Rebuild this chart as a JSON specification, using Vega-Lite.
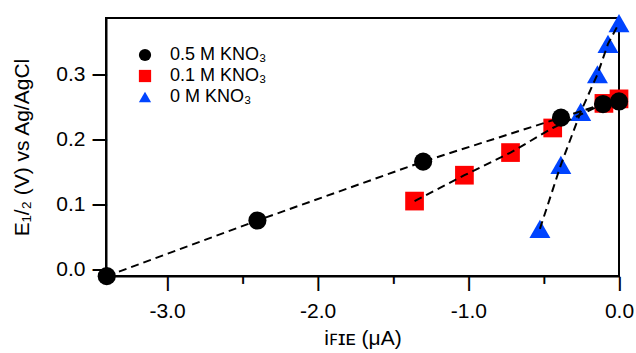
{
  "$schema": "https://vega.github.io/schema/vega-lite/v6.json",
  "width": 513,
  "height": 258,
  "autosize": {"type": "none"},
  "padding": {"left": 106, "top": 18, "right": 17, "bottom": 77},
  "config": {
    "font": "Liberation Sans",
    "view": {"stroke": "black", "strokeWidth": 2},
    "axis": {"grid": false, "domainColor": "black", "domainWidth": 2, "tickColor": "black", "tickWidth": 2, "labelColor": "black", "titleColor": "black", "labelFont": "Liberation Sans", "titleFont": "Liberation Sans", "labelFontSize": 21, "titleFontSize": 21, "titleFontWeight": "normal"},
    "legend": {"title": null, "orient": "none", "legendX": 30, "legendY": 28, "labelFontSize": 18, "labelFont": "Liberation Sans", "labelColor": "black", "symbolSize": 150, "labelOffset": 16, "rowPadding": 3, "padding": 0, "symbolStrokeWidth": 0}
  },
  "data": {
    "values": [
      {"series": "0.1 M KNO₃", "i": -1.357, "E": 0.105},
      {"series": "0.1 M KNO₃", "i": -1.026, "E": 0.145},
      {"series": "0.1 M KNO₃", "i": -0.72, "E": 0.18},
      {"series": "0.1 M KNO₃", "i": -0.44, "E": 0.218},
      {"series": "0.1 M KNO₃", "i": -0.1, "E": 0.256},
      {"series": "0.1 M KNO₃", "i": 0.0, "E": 0.263},
      {"series": "0.5 M KNO₃", "i": -3.4, "E": -0.011},
      {"series": "0.5 M KNO₃", "i": -2.4, "E": 0.075},
      {"series": "0.5 M KNO₃", "i": -1.3, "E": 0.166},
      {"series": "0.5 M KNO₃", "i": -0.385, "E": 0.234},
      {"series": "0.5 M KNO₃", "i": -0.106, "E": 0.255},
      {"series": "0.5 M KNO₃", "i": 0.0, "E": 0.259},
      {"series": "0 M KNO₃", "i": -0.525, "E": 0.062},
      {"series": "0 M KNO₃", "i": -0.386, "E": 0.161},
      {"series": "0 M KNO₃", "i": -0.254, "E": 0.243},
      {"series": "0 M KNO₃", "i": -0.143, "E": 0.301},
      {"series": "0 M KNO₃", "i": -0.073, "E": 0.348},
      {"series": "0 M KNO₃", "i": 0.0, "E": 0.38}
    ]
  },
  "resolve": {"axis": {"x": "independent", "y": "independent"}},
  "encoding": {
    "x": {"field": "i", "type": "quantitative", "scale": {"domain": [-3.405, 0], "nice": false, "zero": false}},
    "y": {"field": "E", "type": "quantitative", "scale": {"domain": [-0.0108, 0.388], "nice": false, "zero": false}},
    "color": {"field": "series", "type": "nominal",
      "scale": {"domain": ["0.5 M KNO₃", "0.1 M KNO₃", "0 M KNO₃"], "range": ["#000000", "#ff0000", "#0044ff"]}},
    "shape": {"field": "series", "type": "nominal",
      "scale": {"domain": ["0.5 M KNO₃", "0.1 M KNO₃", "0 M KNO₃"], "range": ["circle", "square", "triangle-up"]}}
  },
  "layer": [
    {
      "transform": [{"filter": "datum.series == '0.1 M KNO₃'"}],
      "mark": {"type": "point", "filled": true, "opacity": 1, "size": 350, "clip": false},
      "encoding": {
        "x": {"field": "i", "type": "quantitative",
          "axis": {"values": [-3, -2, -1, 0], "labelExpr": "replace(format(datum.value, '.1f'), '\u2212', '-')", "orient": "bottom", "ticks": false, "labelFlush": false, "labelOverlap": false, "labelPadding": 24, "title": "iꜰɪᴇ (μA)", "titlePadding": 6}},
        "y": {"field": "E", "type": "quantitative",
          "axis": {"values": [0, 0.1, 0.2, 0.3], "labelExpr": "replace(format(datum.value, '.1f'), '\u2212', '-')", "orient": "left", "ticks": false, "labelFlush": false, "labelOverlap": false, "labelPadding": 21, "title": "E₁/₂ (V) vs Ag/AgCl", "titlePadding": 23}}
      }
    },
    {
      "transform": [{"filter": "datum.series == '0.5 M KNO₃'"}],
      "mark": {"type": "point", "filled": true, "opacity": 1, "size": 330, "clip": false},
      "encoding": {
        "x": {"field": "i", "type": "quantitative",
          "axis": {"values": [-3, -2, -1, 0], "orient": "bottom", "domain": false, "ticks": false, "labelExpr": "'┃'", "labelFont": "DejaVu Sans Mono", "labelFontSize": 12, "labelBaseline": "top", "labelAlign": "center", "labelPadding": 2, "labelFlush": false, "labelOverlap": false, "labelBound": false, "title": null}},
        "y": {"field": "E", "type": "quantitative",
          "axis": {"values": [0, 0.1, 0.2, 0.3], "orient": "left", "domain": false, "ticks": false, "labelExpr": "'─'", "labelFont": "DejaVu Sans Mono", "labelFontSize": 23, "labelBaseline": "middle", "labelAlign": "right", "labelPadding": 0, "labelOffset": 1, "labelFlush": false, "labelOverlap": false, "labelBound": false, "title": null}}
      }
    },
    {
      "transform": [{"filter": "datum.series == '0 M KNO₃'"}],
      "mark": {"type": "point", "filled": true, "opacity": 1, "size": 440, "clip": false},
      "encoding": {
        "x": {"field": "i", "type": "quantitative",
          "axis": {"values": [-2.5, -1.5, -0.5], "orient": "bottom", "domain": false, "ticks": false, "labelExpr": "'╹'", "labelFont": "DejaVu Sans Mono", "labelFontSize": 12, "labelBaseline": "top", "labelAlign": "center", "labelPadding": 2, "labelFlush": false, "labelOverlap": false, "labelBound": false, "title": null}},
        "y": {"field": "E", "type": "quantitative", "axis": null}
      }
    },
    {
      "mark": {"type": "line", "color": "black", "strokeWidth": 2, "strokeDash": [8, 5]},
      "encoding": {
        "x": {"field": "i", "type": "quantitative", "axis": null},
        "y": {"field": "E", "type": "quantitative", "axis": null},
        "color": {"value": "black"},
        "shape": null,
        "detail": {"field": "series", "type": "nominal"}
      }
    }
  ]
}
